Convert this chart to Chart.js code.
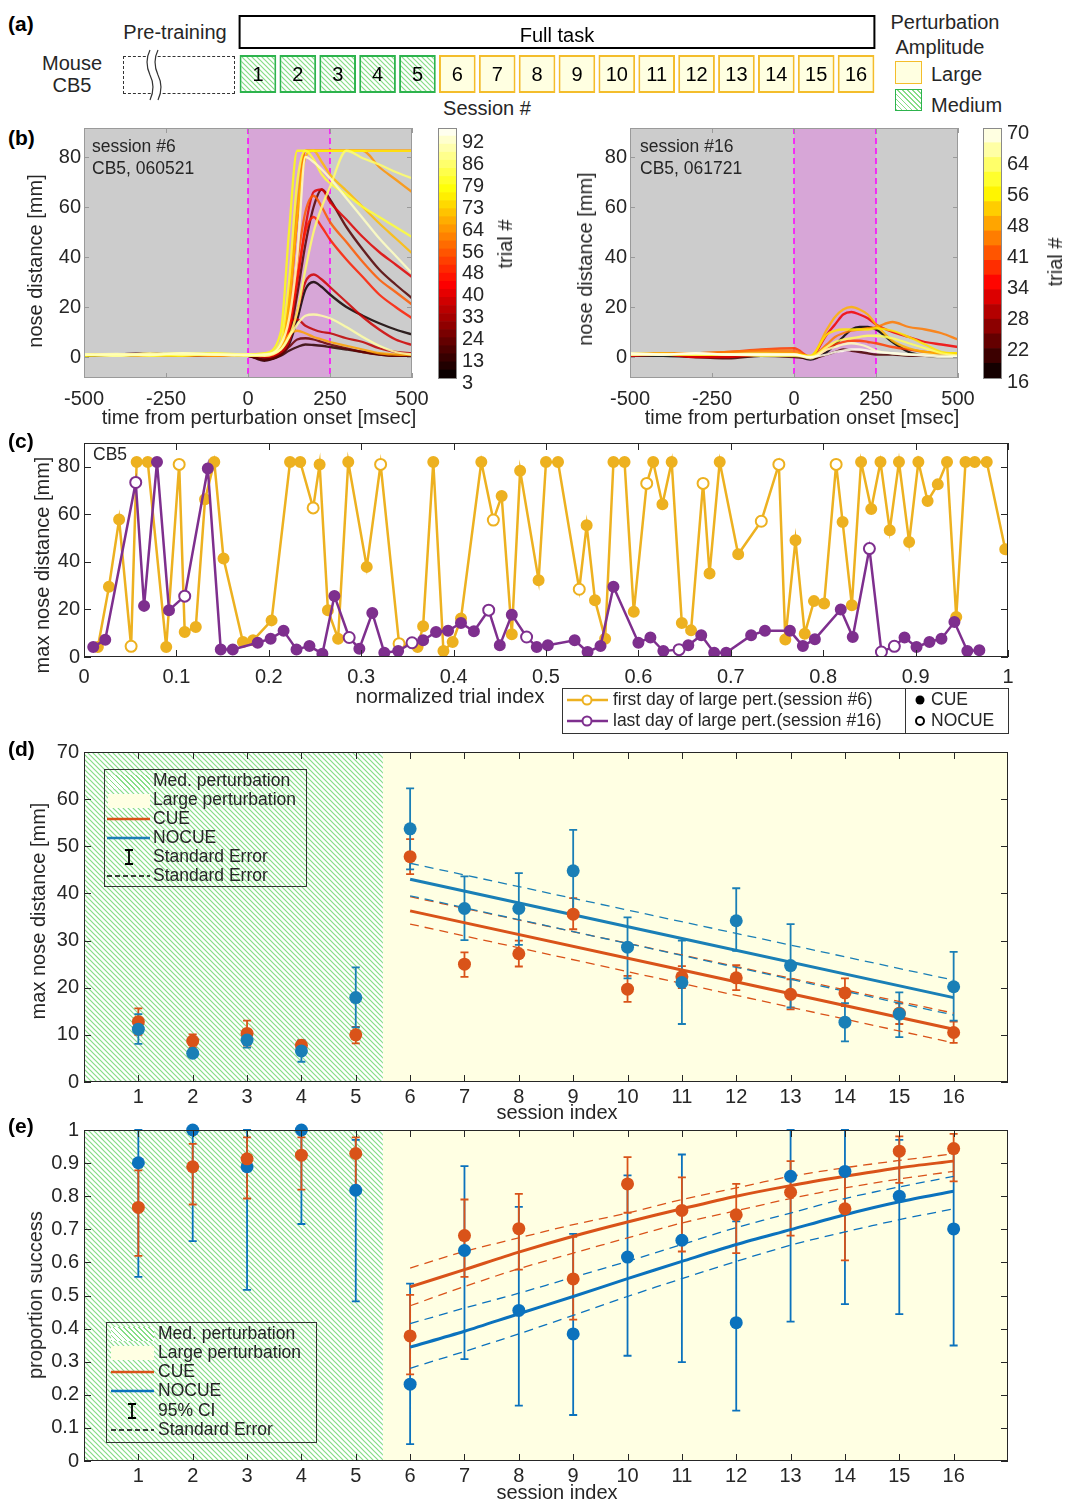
<!DOCTYPE html>
<html>
<head>
<meta charset="utf-8">
<title>CB5 perturbation sessions</title>
<script src="https://cdn.jsdelivr.net/npm/chart.js@4.4.1/dist/chart.umd.min.js"></script>
<style>
  body { margin: 0; width: 1065px; height: 1501px; position: relative; background: #fff; overflow: hidden;
         font-family: "Liberation Sans", Arial, sans-serif; color: #262626; }
  canvas { position: absolute; }
  .t { position: absolute; white-space: nowrap; font-size: 20px; line-height: 1; transform: translate(-50%, -50%); }
  .l { position: absolute; white-space: nowrap; font-size: 17.5px; line-height: 1; transform: translateY(-50%); }
  .v { position: absolute; white-space: nowrap; font-size: 20px; line-height: 1; transform: translate(-50%, -50%) rotate(-90deg); }
  .lab { position: absolute; left: 8px; font-weight: bold; font-size: 21px; color: #000; transform: translateY(-50%); }
  .box { position: absolute; box-sizing: border-box; }
  .hatch { background: repeating-linear-gradient(45deg, #86dd86 0 1.2px, #fff 1.2px 3.6px); }
  svg { position: absolute; overflow: visible; }
</style>
</head>
<body>

<!-- (a) -->
<div class="lab" style="top:24px">(a)</div>
<div class="t" style="left:175px;top:32px">Pre-training</div>
<div class="t" style="left:72px;top:63px">Mouse</div>
<div class="t" style="left:72px;top:85px">CB5</div>
<div class="box" style="left:123px;top:56px;width:112px;height:38px;border:1.5px dashed #333"></div>
<svg style="left:0;top:0" width="1" height="1">
  <path d="M150,50 q-6,12 0,25 q6,12 0,25 L158,100 q6,-13 0,-25 q-6,-12 0,-25 Z" fill="#fff" stroke="none"/>
  <path d="M150,50 q-6,12 0,25 q6,12 0,25" fill="none" stroke="#333" stroke-width="1.2"/>
  <path d="M158,50 q-6,12 0,25 q6,12 0,25" fill="none" stroke="#333" stroke-width="1.2"/>
</svg>
<div class="t" style="left:487px;top:108px">Session #</div>
<div class="t" style="left:945px;top:22px">Perturbation</div>
<div class="t" style="left:940px;top:47px">Amplitude</div>
<div class="box" style="left:895px;top:61px;width:27px;height:23px;background:#ffffe1;border:1.5px solid #f4bd2b"></div>
<div class="l" style="left:931px;top:74px;font-size:20px">Large</div>
<div class="box hatch" style="left:895px;top:89px;width:27px;height:22px;border:1.5px solid #2db34d"></div>
<div class="l" style="left:931px;top:105px;font-size:20px">Medium</div>
<canvas id="cA" width="660" height="95" style="left:230px;top:10px"></canvas>

<!-- (b) -->
<div class="lab" style="top:138px">(b)</div>
<canvas id="cB1" width="430" height="300" style="left:0;top:120px"></canvas>
<canvas id="cCb1" width="95" height="280" style="left:430px;top:120px"></canvas>
<canvas id="cB2" width="430" height="300" style="left:546px;top:120px"></canvas>
<canvas id="cCb2" width="90" height="280" style="left:975px;top:120px"></canvas>
<div class="l" style="left:92px;top:147px">session #6</div>
<div class="l" style="left:92px;top:169px">CB5, 060521</div>
<div class="l" style="left:640px;top:147px">session #16</div>
<div class="l" style="left:640px;top:169px">CB5, 061721</div>
<div class="v" style="left:35px;top:261px">nose distance [mm]</div>
<div class="v" style="left:585px;top:259px">nose distance [mm]</div>
<div class="t" style="left:259px;top:417px">time from perturbation onset [msec]</div>
<div class="t" style="left:802px;top:417px">time from perturbation onset [msec]</div>
<div class="v" style="left:505px;top:244px">trial #</div>
<div class="v" style="left:1055px;top:262px">trial #</div>

<!-- (c) -->
<div class="lab" style="top:441px">(c)</div>
<canvas id="cC" width="1065" height="262" style="left:0;top:435px"></canvas>
<div class="l" style="left:93px;top:455px">CB5</div>
<div class="v" style="left:42px;top:565px">max nose distance [mm]</div>
<div class="t" style="left:450px;top:696px">normalized trial index</div>
<div class="box" style="left:562px;top:688px;width:447px;height:46px;border:1px solid #333"></div>
<div class="box" style="left:905px;top:688px;width:1px;height:46px;background:#333"></div>
<svg style="left:0;top:0" width="1" height="1">
  <line x1="567" y1="700" x2="608" y2="700" stroke="#EDB120" stroke-width="2.5"/>
  <circle cx="587" cy="700" r="4.5" fill="#fff" stroke="#EDB120" stroke-width="2"/>
  <line x1="567" y1="721" x2="608" y2="721" stroke="#7E2F8E" stroke-width="2.5"/>
  <circle cx="587" cy="721" r="4.5" fill="#fff" stroke="#7E2F8E" stroke-width="2"/>
  <circle cx="920" cy="700" r="4.5" fill="#000"/>
  <circle cx="920" cy="721" r="4" fill="#fff" stroke="#000" stroke-width="2"/>
</svg>
<div class="l" style="left:613px;top:700px">first day of large pert.(session #6)</div>
<div class="l" style="left:613px;top:721px">last day of large pert.(session #16)</div>
<div class="l" style="left:931px;top:700px">CUE</div>
<div class="l" style="left:931px;top:721px">NOCUE</div>

<!-- (d) -->
<div class="lab" style="top:749px">(d)</div>
<canvas id="cD" width="1065" height="380" style="left:0;top:735px"></canvas>
<div class="v" style="left:38px;top:911px">max nose distance [mm]</div>
<div class="t" style="left:557px;top:1112px">session index</div>
<div class="box" style="left:104px;top:769px;width:203px;height:118px;border:1px solid #333"></div>
<div class="box hatch" style="left:108px;top:775px;width:42px;height:14px"></div>
<div class="box" style="left:108px;top:794px;width:42px;height:14px;background:#ffffe3"></div>
<svg style="left:0;top:0" width="1" height="1">
  <line x1="107" y1="819" x2="150" y2="819" stroke="#D95319" stroke-width="2.5"/>
  <line x1="107" y1="838" x2="150" y2="838" stroke="#1A7FB6" stroke-width="2.5"/>
  <path d="M129,850 V864 M125,850 H133 M125,864 H133" stroke="#000" stroke-width="1.8" fill="none"/>
  <line x1="107" y1="876" x2="150" y2="876" stroke="#000" stroke-width="1.5" stroke-dasharray="5,3"/>
</svg>
<div class="l" style="left:153px;top:781px">Med. perturbation</div>
<div class="l" style="left:153px;top:800px">Large perturbation</div>
<div class="l" style="left:153px;top:819px">CUE</div>
<div class="l" style="left:153px;top:838px">NOCUE</div>
<div class="l" style="left:153px;top:857px">Standard Error</div>
<div class="l" style="left:153px;top:876px">Standard Error</div>

<!-- (e) -->
<div class="lab" style="top:1126px">(e)</div>
<canvas id="cE" width="1065" height="380" style="left:0;top:1112px"></canvas>
<div class="v" style="left:35px;top:1295px">proportion success</div>
<div class="t" style="left:557px;top:1492px">session index</div>
<div class="box" style="left:106px;top:1322px;width:211px;height:121px;border:1px solid #333"></div>
<div class="box hatch" style="left:111px;top:1327px;width:43px;height:14px"></div>
<div class="box" style="left:111px;top:1346px;width:43px;height:14px;background:#ffffe3"></div>
<svg style="left:0;top:0" width="1" height="1">
  <line x1="111" y1="1372" x2="154" y2="1372" stroke="#D95319" stroke-width="2.5"/>
  <line x1="111" y1="1391" x2="154" y2="1391" stroke="#0B72BD" stroke-width="2.5"/>
  <path d="M132,1404 V1418 M128,1404 H136 M128,1418 H136" stroke="#000" stroke-width="1.8" fill="none"/>
  <line x1="111" y1="1430" x2="154" y2="1430" stroke="#000" stroke-width="1.5" stroke-dasharray="5,3"/>
</svg>
<div class="l" style="left:158px;top:1334px">Med. perturbation</div>
<div class="l" style="left:158px;top:1353px">Large perturbation</div>
<div class="l" style="left:158px;top:1372px">CUE</div>
<div class="l" style="left:158px;top:1391px">NOCUE</div>
<div class="l" style="left:158px;top:1411px">95% CI</div>
<div class="l" style="left:158px;top:1430px">Standard Error</div>

<script>
// ---- data ----
const sessionNums = [1, 2, 3, 4, 5, 6, 7, 8, 9, 10, 11, 12, 13, 14, 15, 16];
const sessionAmp = ['M', 'M', 'M', 'M', 'M', 'L', 'L', 'L', 'L', 'L', 'L', 'L', 'L', 'L', 'L', 'L'];

// (b) nose distance traces, sampled at timeMs
const timeMs = [-500, -400, -300, -200, -100, 0, 50, 100, 125, 150, 175, 200, 225, 250, 300, 350, 400, 450, 500];
const cb6Labels = [3, 13, 24, 33, 40, 48, 56, 64, 73, 79, 86, 92];
const cb16Labels = [16, 22, 28, 34, 41, 48, 56, 64, 70];
const s6Trials = [92, 86, 79, 64, 82, 70, 40, 20, 56, 48, 8, 38, 90, 36, 66, 24, 13, 44];
const s6Nose = [
  [1, 1.2, 0.8, 1.5, 1, 0.8, 1, 5, 15, 40, 80, 78, 75, 71.5, 63.5, 55.5, 47.5, 40.5, 33.5],
  [1, 0.5, 1, 1.5, 1, 0.5, 1, 3, 8, 18, 35, 50, 60, 68, 82.5, 79.5, 77, 74, 71.5],
  [0.5, 1, 0.8, 0.5, 1, 1, 1.5, 10, 50, 82.5, 82.5, 82.5, 82.5, 82.5, 82.5, 82.5, 82.5, 82.5, 82.5],
  [1, 0.8, 1.2, 1, 0.6, 1, 1, 5, 25, 60, 82.5, 82.5, 82.5, 82.5, 82.5, 82.5, 76, 71, 66],
  [1, 1, 0.5, 1, 1.5, 1, 1, 6, 30, 70, 82.5, 79, 73, 69.5, 65, 60, 56, 52, 48],
  [1, 0.5, 1, 0.8, 1, 0.5, 1, 4, 20, 55, 80, 82.5, 78, 73, 66.5, 60, 53.5, 47.5, 41.5],
  [1, 1, 0.5, 1, 0.8, 1, 0.5, 3, 10, 30, 52, 66, 67, 62, 55, 48, 42, 37, 32],
  [0.5, 1, 1.5, 0.5, 1, 0.8, 0, 2, 8, 25, 45, 60, 67, 63, 52, 43, 35, 29, 23.5],
  [1, 1, 0.8, 1, 1, 0.8, 0.5, 4, 15, 38, 58, 64.5, 60, 54, 46, 38, 31, 26, 21],
  [1, 0.8, 1, 1, 0.5, 1, 0.5, 3, 12, 32, 50, 56, 52, 47, 39, 32, 25, 20, 15.5],
  [0.5, 0.5, 1, 0.5, 1, 0.5, -1, 1, 5, 15, 27, 30, 28, 25, 20, 16.5, 13.5, 11, 9],
  [1, 1, 0.5, 1, 1, 1, 0, 2, 6, 18, 30, 33, 31, 28, 22, 16, 11, 7, 4.8],
  [1, 0.5, 1.5, 1, 1, 1, 0.5, 3, 8, 13, 16.5, 17, 16.5, 15.5, 12, 8, 4.5, 2, 1],
  [1, 1, 1, 0.5, 1, 1, 0.5, 4, 14, 15, 12.5, 11, 10, 9.5, 7.5, 6, 3.5, 2, 1.5],
  [1, 1, 0.5, 1, 0.5, 1, 0.5, 4, 9, 10.5, 9.5, 8, 7, 6, 4.5, 3, 1.5, 1, 0.8],
  [0.5, 1, 1, 0.5, 1, 0.5, -1, 1, 4, 7, 7.5, 7, 6, 5, 3.5, 2, 1, 0.5, 0.5],
  [0.5, 0.5, 1, 0.5, 1, 0.5, -1.5, 0.5, 2.5, 4, 5, 4.8, 4.5, 4, 3, 2, 1, 0.5, 0.5],
  [1, 1, 1, 0.5, 1, 1, 0.5, 4, 20, 55, 82.5, 82.5, 82.5, 82.5, 82.5, 82.5, 82.5, 82.5, 82.5]
];
const s16Trials = [50, 34, 45, 17, 55, 68, 63, 70, 22, 40];
const s16Nose = [
  [1, 1.5, 1, 1.2, 1.5, 1.5, 0, 11, 16, 19, 20, 19, 17, 13, 6.5, 3.5, 2, 1.5, 1.5],
  [0.5, 1, 0, 0, 1, 1.5, 0, 9, 13, 17, 18, 17, 15.5, 13, 10, 8, 6, 5, 4],
  [1, 1.5, 1.5, 2, 2.5, 2.5, 0, 5, 8, 9.5, 10.5, 11, 11.5, 12, 14, 12, 11, 9.5, 7],
  [0.5, 0.5, 0, 0, 0.5, 0.5, -1, 2, 5, 8, 11, 12, 12, 11, 6, 2, 0.5, 0, 0],
  [1.5, 1, 1, 1, 1, 1, 0.5, 9, 10.5, 11, 11, 11, 11, 11.5, 10.5, 8, 5, 2, 1.5],
  [1, 1, 1.5, 1, 1, 1, -0.5, 3, 4, 5, 5.5, 5, 4, 2.5, 1.5, 1, 1, 0.5, 0.5],
  [1, 1, 1, 1, 0.5, 0.5, 0, 4, 6, 7, 7.5, 8, 8.5, 8.5, 7.5, 5.5, 3.5, 1.5, 0.5],
  [1.5, 1, 1.5, 1, 1, 1, 0, 1, 2, 2.5, 3, 3, 2.5, 2, 1.5, 1, 0.5, 0, 0],
  [1, 1, 0, -0.5, 0.5, 0, -0.5, 1, 2, 3, 2.5, 2, 1.5, 1, 1, 0.5, 0.5, 0.5, 1],
  [1, 1, 1.5, 2, 3, 3.5, 0, 3, 5, 6, 6.5, 6.5, 6, 5.5, 4, 3, 2, 1.5, 1]
];

// (c) max nose distance per trial, 1 = CUE, 0 = NOCUE
const s6Idx = [0.015, 0.027, 0.038, 0.051, 0.057, 0.069, 0.089, 0.103, 0.109, 0.121, 0.131, 0.141, 0.151, 0.172, 0.183, 0.203, 0.223, 0.234, 0.248, 0.255, 0.264, 0.275, 0.286, 0.306, 0.321, 0.341, 0.361, 0.367, 0.378, 0.389, 0.399, 0.408, 0.430, 0.443, 0.452, 0.463, 0.472, 0.492, 0.500, 0.513, 0.536, 0.544, 0.553, 0.564, 0.573, 0.585, 0.595, 0.609, 0.616, 0.626, 0.636, 0.647, 0.657, 0.670, 0.677, 0.688, 0.708, 0.733, 0.752, 0.759, 0.770, 0.780, 0.790, 0.801, 0.814, 0.821, 0.831, 0.841, 0.852, 0.862, 0.872, 0.882, 0.893, 0.903, 0.913, 0.924, 0.934, 0.944, 0.954, 0.964, 0.977, 0.997];
const s6Max = [4.2, 29.5, 57.8, 4.5, 82, 82, 4.2, 81, 10.5, 12.6, 66.3, 82, 41.4, 6.3, 7, 15.4, 82, 82, 62.7, 81, 19.7, 7.7, 82, 37.9, 81, 5.6, 4.2, 12.9, 82, 2.5, 6.3, 16.2, 82, 57.6, 67.7, 9.6, 78.3, 32.3, 82, 82, 28.5, 55.4, 23.9, 7.7, 82, 82, 19, 73, 82, 64.2, 82, 14.3, 11.2, 73, 35.1, 82, 43.2, 57.1, 81, 7.4, 49.1, 9.8, 23.5, 22.5, 81, 56.8, 21.8, 82, 62.2, 82, 53.3, 82, 48.4, 82, 65.6, 72.6, 82, 16.8, 82, 82, 82, 45.3];
const s6Cue = [1, 1, 1, 0, 1, 1, 1, 0, 1, 1, 1, 1, 1, 1, 1, 1, 1, 1, 0, 1, 1, 1, 1, 1, 0, 0, 1, 1, 1, 1, 1, 1, 1, 0, 1, 1, 1, 1, 1, 1, 0, 1, 1, 1, 1, 1, 1, 0, 1, 1, 1, 1, 1, 0, 1, 1, 1, 0, 0, 1, 1, 1, 1, 1, 0, 1, 1, 1, 1, 1, 1, 1, 1, 1, 1, 1, 1, 1, 1, 1, 1, 1];
const s16Idx = [0.010, 0.023, 0.056, 0.065, 0.079, 0.092, 0.109, 0.134, 0.148, 0.161, 0.188, 0.202, 0.216, 0.230, 0.244, 0.258, 0.271, 0.287, 0.298, 0.312, 0.325, 0.340, 0.355, 0.367, 0.381, 0.394, 0.408, 0.422, 0.438, 0.450, 0.463, 0.479, 0.490, 0.502, 0.531, 0.545, 0.559, 0.573, 0.600, 0.613, 0.627, 0.644, 0.654, 0.668, 0.682, 0.695, 0.722, 0.737, 0.764, 0.778, 0.791, 0.819, 0.832, 0.850, 0.863, 0.877, 0.888, 0.901, 0.915, 0.928, 0.942, 0.956, 0.969];
const s16Max = [4.2, 7.3, 73.4, 21.5, 82, 19.7, 25.6, 79.3, 3.2, 3.2, 6, 7.7, 11, 3.2, 4.6, 1.4, 25.7, 8.2, 3.5, 18.5, 1.8, 2.5, 6, 7, 10.5, 11, 14.3, 10.8, 19.7, 4.9, 17.8, 8.4, 4.2, 4.9, 7, 2.1, 4.6, 29.5, 6, 8.2, 2.5, 3.1, 4.9, 9.1, 1.8, 1.8, 9.1, 11, 11, 4.6, 7.5, 20, 8.4, 45.6, 2.1, 4.5, 8.2, 4.2, 6.3, 7.7, 14.7, 2.5, 2.8];
const s16Cue = [1, 1, 0, 1, 1, 1, 0, 1, 1, 1, 1, 1, 1, 1, 1, 1, 1, 0, 1, 1, 1, 1, 0, 1, 1, 1, 1, 1, 0, 1, 1, 0, 1, 1, 1, 1, 1, 1, 1, 1, 1, 0, 1, 1, 1, 1, 1, 1, 1, 1, 1, 1, 1, 0, 0, 0, 1, 1, 1, 1, 1, 1, 1];

// (d) max nose distance per session, mean and standard error
const dCue = [12.8, 8.7, 10.3, 7.8, 10.0, 47.8, 25.0, 27.2, 35.6, 19.7, 22.3, 22.1, 18.6, 18.9, 14.6, 10.5];
const dCueLo = [10.0, 7.3, 7.7, 6.8, 8.2, 44.1, 22.3, 24.5, 32.4, 17.0, 19.9, 19.5, 15.4, 16.1, 12.3, 8.3];
const dCueHi = [15.6, 10.1, 13.0, 8.8, 11.7, 51.5, 27.5, 30.0, 39.0, 22.5, 24.6, 24.8, 21.8, 22.0, 16.7, 12.8];
const dNocue = [11.2, 6.1, 8.9, 6.6, 17.9, 53.7, 36.8, 36.8, 44.8, 28.6, 21.1, 34.2, 24.7, 12.7, 14.4, 20.2];
const dNocueLo = [8.1, 5.6, 7.3, 4.3, 11.6, 45.1, 30.1, 29.1, 35.8, 22.0, 12.3, 27.8, 15.8, 8.6, 9.5, 13.0];
const dNocueHi = [14.4, 6.6, 10.8, 8.8, 24.3, 62.3, 43.6, 44.3, 53.5, 34.9, 30.0, 41.1, 33.5, 16.7, 19.0, 27.6];
const dFitSessions = [6, 16];
const dCueFit = [36.3, 11.2], dCueFitHi = [39.3, 14.6], dCueFitLo = [33.5, 8.3];
const dNocueFit = [43.0, 17.9], dNocueFitHi = [46.4, 21.6], dNocueFitLo = [39.5, 14.2];

// (e) proportion success per session, with 95% CI
const eCue = [0.766, 0.889, 0.913, 0.924, 0.929, 0.378, 0.681, 0.702, 0.550, 0.837, 0.757, 0.744, 0.812, 0.762, 0.936, 0.944];
const eCueLo = [0.620, 0.775, 0.793, 0.820, 0.830, 0.262, 0.556, 0.578, 0.427, 0.750, 0.633, 0.628, 0.681, 0.606, 0.840, 0.845];
const eCueHi = [0.878, 0.958, 0.978, 0.978, 0.978, 0.502, 0.790, 0.807, 0.677, 0.918, 0.857, 0.837, 0.906, 0.880, 0.981, 0.988];
const eNocue = [0.901, 1.0, 0.889, 1.0, 0.818, 0.232, 0.636, 0.455, 0.384, 0.616, 0.667, 0.418, 0.860, 0.875, 0.800, 0.701];
const eNocueLo = [0.556, 0.664, 0.517, 0.716, 0.482, 0.051, 0.308, 0.167, 0.139, 0.318, 0.299, 0.152, 0.421, 0.474, 0.444, 0.349];
const eNocueHi = [1.0, 1.0, 1.0, 1.0, 0.97, 0.536, 0.891, 0.768, 0.686, 0.863, 0.926, 0.724, 1.0, 1.0, 0.97, 0.93];
const eFitSessions = [6, 7, 8, 9, 10, 11, 12, 13, 14, 15, 16];
const eCueFit = [0.526, 0.578, 0.631, 0.679, 0.722, 0.762, 0.800, 0.832, 0.860, 0.886, 0.906];
const eCueFitHi = [0.583, 0.633, 0.674, 0.714, 0.749, 0.790, 0.825, 0.860, 0.886, 0.908, 0.928];
const eCueFitLo = [0.469, 0.527, 0.581, 0.628, 0.674, 0.719, 0.756, 0.793, 0.825, 0.852, 0.875];
const eNocueFit = [0.344, 0.392, 0.445, 0.497, 0.551, 0.603, 0.654, 0.699, 0.744, 0.783, 0.815];
const eNocueFitHi = [0.415, 0.462, 0.507, 0.555, 0.603, 0.654, 0.705, 0.749, 0.793, 0.828, 0.860];
const eNocueFitLo = [0.280, 0.331, 0.384, 0.440, 0.497, 0.551, 0.603, 0.652, 0.692, 0.729, 0.762];

// ---- styles ----
const ORANGE = '#D95319', BLUE_D = '#1A7FB6', BLUE_E = '#0B72BD';
const GOLD = '#EDB120', PURPLE = '#7E2F8E';
Chart.defaults.font.family = '"Liberation Sans", Arial, sans-serif';
Chart.defaults.font.size = 20;
Chart.defaults.color = '#262626';
Chart.defaults.animation = false;
Chart.defaults.events = [];
Chart.defaults.plugins.legend.display = false;
Chart.defaults.plugins.tooltip.enabled = false;

function hatchPattern() {
  const c = document.createElement('canvas');
  c.width = c.height = 5;
  const g = c.getContext('2d');
  g.fillStyle = '#fff';
  g.fillRect(0, 0, 5, 5);
  g.strokeStyle = '#86dd86';
  g.lineWidth = 1.2;
  g.beginPath();
  g.moveTo(-1, -1); g.lineTo(6, 6);
  g.moveTo(4, -1); g.lineTo(6, 1);
  g.moveTo(-1, 4); g.lineTo(1, 6);
  g.stroke();
  return g.createPattern(c, 'repeat');
}
const HATCH = hatchPattern();

function hot(f) {
  f = Math.max(0, Math.min(1, f));
  const r = Math.min(1, f / 0.375);
  const g = Math.max(0, Math.min(1, (f - 0.375) / 0.375));
  const b = Math.max(0, (f - 0.75) / 0.25);
  return [r, g, b].map(c => Math.round(c * 255));
}

// where each colorbar label sits on the 0..1 bar
const cb6Pos = cb6Labels.map((_, i) => -0.02 + i * 0.0873);
const cb16Pos = cb16Labels.map((_, i) => -0.016 + i * 0.1245);

function trialColour(trial, labels, pos, alpha) {
  let f = 1;
  for (let i = 0; i < labels.length - 1; i++) {
    if (trial <= labels[i + 1]) {
      f = pos[i] + (pos[i + 1] - pos[i]) * (trial - labels[i]) / (labels[i + 1] - labels[i]);
      break;
    }
  }
  const [r, g, b] = hot(f);
  return `rgba(${r},${g},${b},${alpha})`;
}

// fixed axis sizes, and no extra margin for the end labels
const noPad = s => { s.paddingTop = s.paddingBottom = s.paddingLeft = s.paddingRight = 0; };
const fixW = w => s => { s.width = w; noPad(s); };
const fixH = h => s => { s.height = h; noPad(s); };
const setTicks = vals => s => { s.ticks = vals.map(v => ({ value: v })); };
const GRID = { display: false, drawTicks: false };

// box round the axes plus MATLAB-style inward ticks
const frame = {
  id: 'frame',
  afterDatasetsDraw(chart, args, o) {
    if (!o.on) return;
    const { ctx, chartArea: a, scales: { x, y } } = chart;
    const len = o.len || 6;
    ctx.save();
    ctx.strokeStyle = o.color || '#262626';
    ctx.lineWidth = 1;
    ctx.beginPath();
    x.ticks.forEach(t => {
      const p = Math.round(x.getPixelForValue(t.value)) + 0.5;
      ctx.moveTo(p, a.bottom); ctx.lineTo(p, a.bottom - len);
      ctx.moveTo(p, a.top); ctx.lineTo(p, a.top + len);
    });
    y.ticks.forEach(t => {
      const p = Math.round(y.getPixelForValue(t.value)) + 0.5;
      ctx.moveTo(a.left, p); ctx.lineTo(a.left + len, p);
      ctx.moveTo(a.right, p); ctx.lineTo(a.right - len, p);
    });
    ctx.stroke();
    ctx.strokeRect(Math.round(a.left) + 0.5, Math.round(a.top) + 0.5, Math.round(a.width) - 1, Math.round(a.height) - 1);
    ctx.restore();
  }
};

// ---- (a) session boxes ----
const sessionText = {
  id: 'sessionText',
  afterDatasetsDraw(chart) {
    const { ctx } = chart;
    const meta = chart.getDatasetMeta(0);
    const first = meta.data[0], last = meta.data[meta.data.length - 1];
    ctx.save();
    ctx.strokeStyle = '#000';
    ctx.lineWidth = 2;
    const x0 = first.x - first.width / 2, x1 = last.x + last.width / 2;
    ctx.strokeRect(x0, 6, x1 - x0, 32);
    ctx.fillStyle = '#000';
    ctx.font = '20px "Liberation Sans", Arial, sans-serif';
    ctx.textAlign = 'center';
    ctx.textBaseline = 'middle';
    ctx.fillText('Full task', (x0 + x1) / 2, 26);
    meta.data.forEach((bar, i) => ctx.fillText(String(sessionNums[i]), bar.x, (bar.y + bar.base) / 2 + 1));
    ctx.restore();
  }
};
new Chart(document.getElementById('cA'), {
  type: 'bar',
  data: {
    labels: sessionNums.map(String),
    datasets: [{
      data: sessionNums.map(() => [0, 1]),
      backgroundColor: sessionAmp.map(a => a === 'M' ? HATCH : '#ffffe1'),
      borderColor: sessionAmp.map(a => a === 'M' ? '#2db34d' : '#f4bd2b'),
      borderWidth: 2, borderSkipped: false, barPercentage: 0.92, categoryPercentage: 1
    }]
  },
  options: {
    responsive: false,
    layout: { padding: { left: 8, right: 14, top: 45, bottom: 12 } },
    scales: { x: { display: false }, y: { display: false, min: 0, max: 1 } }
  },
  plugins: [sessionText]
});

// ---- (b) nose distance traces ----
const pertShade = {
  id: 'pertShade',
  beforeDatasetsDraw(chart) {
    const { ctx, chartArea: a, scales: { x } } = chart;
    const p0 = x.getPixelForValue(0), p1 = x.getPixelForValue(250);
    ctx.save();
    ctx.fillStyle = '#cccccc';
    ctx.fillRect(a.left, a.top, a.width, a.height);
    ctx.fillStyle = 'rgb(215,166,215)';
    ctx.fillRect(p0, a.top, p1 - p0, a.height);
    ctx.strokeStyle = '#ff00ff';
    ctx.lineWidth = 1.5;
    ctx.setLineDash([6, 4]);
    ctx.beginPath();
    ctx.moveTo(p0, a.top); ctx.lineTo(p0, a.bottom);
    ctx.moveTo(p1, a.top); ctx.lineTo(p1, a.bottom);
    ctx.stroke();
    ctx.restore();
  }
};

function traceChart(id, traces, trials, labels, pos) {
  const order = trials.map((_, i) => i).sort((a, b) => trials[b] - trials[a]);
  new Chart(document.getElementById(id), {
    type: 'line',
    data: {
      datasets: order.map(i => ({
        data: timeMs.map((t, k) => ({ x: t, y: traces[i][k] })),
        borderColor: trialColour(trials[i], labels, pos, 0.85),
        borderWidth: 2.3, pointRadius: 0, cubicInterpolationMode: 'monotone'
      }))
    },
    options: {
      responsive: false,
      layout: { padding: { top: 8, right: 18 } },
      scales: {
        x: {
          type: 'linear', min: -500, max: 500, afterFit: fixH(42), afterBuildTicks: setTicks([-500, -250, 0, 250, 500]),
          grid: GRID, border: { display: false }, ticks: { padding: 9, maxRotation: 0, autoSkip: false }
        },
        y: {
          min: -8.4, max: 91.6, afterFit: fixW(84), afterBuildTicks: setTicks([0, 20, 40, 60, 80]),
          grid: GRID, border: { display: false }, ticks: { padding: 3 }
        }
      },
      plugins: { frame: { on: true, color: '#9a9a9a', len: 5 } }
    },
    plugins: [pertShade, frame]
  });
}
traceChart('cB1', s6Nose, s6Trials, cb6Labels, cb6Pos);
traceChart('cB2', s16Nose, s16Trials, cb16Labels, cb16Pos);

// colorbars: stacked bands of the hot map
const cbBorder = {
  id: 'cbBorder',
  afterDatasetsDraw(chart) {
    const { ctx, chartArea: a, scales: { y } } = chart;
    const top = y.getPixelForValue(1), bot = y.getPixelForValue(0);
    ctx.save();
    ctx.strokeStyle = '#8a8a8a';
    ctx.lineWidth = 1;
    ctx.strokeRect(Math.round(a.left) + 0.5, Math.round(top) + 0.5, Math.round(a.width) - 1, Math.round(bot - top));
    ctx.restore();
  }
};
function colourbar(id, bands, labels, pos, axisW) {
  const ds = [];
  for (let k = 0; k < bands; k++) {
    const [r, g, b] = hot((k + 0.5) / bands);
    ds.push({ data: [1 / bands], backgroundColor: `rgb(${r},${g},${b})`, borderWidth: 0, barPercentage: 1, categoryPercentage: 1 });
  }
  new Chart(document.getElementById(id), {
    type: 'bar',
    data: { labels: [''], datasets: ds },
    options: {
      responsive: false,
      layout: { padding: { left: 8, top: 8, bottom: 12 } },
      scales: {
        x: { display: false, stacked: true },
        y: {
          stacked: true, position: 'right', min: -0.04, max: 1, afterFit: fixW(axisW),
          afterBuildTicks: setTicks(pos), grid: GRID, border: { display: false },
          ticks: { padding: 5, autoSkip: false, callback: (v, i) => labels[i] }
        }
      }
    },
    plugins: [cbBorder]
  });
}
colourbar('cCb1', 31, cb6Labels, cb6Pos, 68);
colourbar('cCb2', 17, cb16Labels, cb16Pos, 63);

// ---- (c) max nose distance over normalized trial ----
function trialSeries(idx, vals, cue, colour) {
  return {
    data: idx.map((x, i) => ({ x, y: vals[i] })),
    borderColor: colour, borderWidth: 2.5, showLine: true,
    pointBackgroundColor: cue.map(c => c ? colour : '#fff'),
    pointBorderColor: colour, pointBorderWidth: 2,
    pointRadius: cue.map(c => c ? 5 : 5.5)
  };
}
new Chart(document.getElementById('cC'), {
  type: 'scatter',
  data: {
    datasets: [
      trialSeries(s16Idx, s16Max, s16Cue, PURPLE),
      trialSeries(s6Idx, s6Max, s6Cue, GOLD)
    ]
  },
  options: {
    responsive: false,
    layout: { padding: { top: 8, right: 57 } },
    scales: {
      x: {
        min: 0, max: 1, afterFit: fixH(40),
        afterBuildTicks: setTicks([0, 0.1, 0.2, 0.3, 0.4, 0.5, 0.6, 0.7, 0.8, 0.9, 1]),
        grid: GRID, border: { display: false },
        ticks: { padding: 8, maxRotation: 0, autoSkip: false, callback: v => String(+v.toFixed(1)) }
      },
      y: {
        min: 0, max: 90, afterFit: fixW(84), afterBuildTicks: setTicks([0, 20, 40, 60, 80]),
        grid: GRID, border: { display: false }, ticks: { padding: 4 }
      }
    },
    plugins: { frame: { on: true, len: 7 } }
  },
  plugins: [frame]
});

// ---- (d), (e) per-session summaries ----
const regions = {
  id: 'regions',
  beforeDraw(chart) {
    const { ctx, chartArea: a, scales: { x } } = chart;
    const mid = x.getPixelForValue(5.5);
    ctx.save();
    ctx.fillStyle = HATCH;
    ctx.fillRect(a.left, a.top, mid - a.left, a.height);
    ctx.fillStyle = '#ffffe3';
    ctx.fillRect(mid, a.top, a.right - mid, a.height);
    ctx.restore();
  }
};
const errorBars = {
  id: 'errorBars',
  beforeDatasetsDraw(chart) {
    const { ctx, scales: { x, y } } = chart;
    ctx.save();
    ctx.lineWidth = 1.8;
    chart.data.datasets.slice().reverse().forEach(ds => {
      if (!ds.errLo) return;
      ctx.strokeStyle = ds.backgroundColor;
      ctx.beginPath();
      ds.data.forEach((p, i) => {
        const px = x.getPixelForValue(p.x);
        const lo = y.getPixelForValue(ds.errLo[i]), hi = y.getPixelForValue(ds.errHi[i]);
        ctx.moveTo(px, lo); ctx.lineTo(px, hi);
        ctx.moveTo(px - 4, lo); ctx.lineTo(px + 4, lo);
        ctx.moveTo(px - 4, hi); ctx.lineTo(px + 4, hi);
      });
      ctx.stroke();
    });
    ctx.restore();
  }
};
const pts = (vals, lo, hi, colour) => ({
  data: sessionNums.map((s, i) => ({ x: s, y: vals[i] })),
  errLo: lo, errHi: hi, backgroundColor: colour, borderWidth: 0, pointRadius: 6.5, clip: false
});
const fitLine = (xs, vals, colour, dashed) => ({
  data: xs.map((s, i) => ({ x: s, y: vals[i] })),
  showLine: true, pointRadius: 0, borderColor: colour,
  borderWidth: dashed ? 1.3 : 3, borderDash: dashed ? [9, 6] : [], tension: 0.3
});
function sessionChart(id, datasets, yMax, yTicks, xAxisH, topPad, fmt) {
  new Chart(document.getElementById(id), {
    type: 'scatter',
    data: { datasets },
    options: {
      responsive: false,
      layout: { padding: { top: topPad, right: 57 } },
      scales: {
        x: {
          min: 0, max: 17, afterFit: fixH(xAxisH), afterBuildTicks: setTicks(sessionNums),
          grid: GRID, border: { display: false }, ticks: { padding: 3, maxRotation: 0, autoSkip: false }
        },
        y: {
          min: 0, max: yMax, afterFit: fixW(84), afterBuildTicks: setTicks(yTicks),
          grid: GRID, border: { display: false }, ticks: { padding: 5, autoSkip: false, callback: fmt }
        }
      },
      plugins: { frame: { on: true, len: 7 } }
    },
    plugins: [regions, errorBars, frame]
  });
}
sessionChart('cD', [
  pts(dNocue, dNocueLo, dNocueHi, BLUE_D),
  pts(dCue, dCueLo, dCueHi, ORANGE),
  fitLine(dFitSessions, dNocueFit, BLUE_D, false),
  fitLine(dFitSessions, dNocueFitHi, BLUE_D, true),
  fitLine(dFitSessions, dNocueFitLo, BLUE_D, true),
  fitLine(dFitSessions, dCueFit, ORANGE, false),
  fitLine(dFitSessions, dCueFitHi, ORANGE, true),
  fitLine(dFitSessions, dCueFitLo, ORANGE, true)
], 70, [0, 10, 20, 30, 40, 50, 60, 70], 33, 17, v => String(v));

sessionChart('cE', [
  pts(eCue, eCueLo, eCueHi, ORANGE),
  pts(eNocue, eNocueLo, eNocueHi, BLUE_E),
  fitLine(eFitSessions, eCueFit, ORANGE, false),
  fitLine(eFitSessions, eCueFitHi, ORANGE, true),
  fitLine(eFitSessions, eCueFitLo, ORANGE, true),
  fitLine(eFitSessions, eNocueFit, BLUE_E, false),
  fitLine(eFitSessions, eNocueFitHi, BLUE_E, true),
  fitLine(eFitSessions, eNocueFitLo, BLUE_E, true)
], 1, [0, 0.1, 0.2, 0.3, 0.4, 0.5, 0.6, 0.7, 0.8, 0.9, 1], 31, 18, v => String(+v.toFixed(1)));
</script>
</body>
</html>
